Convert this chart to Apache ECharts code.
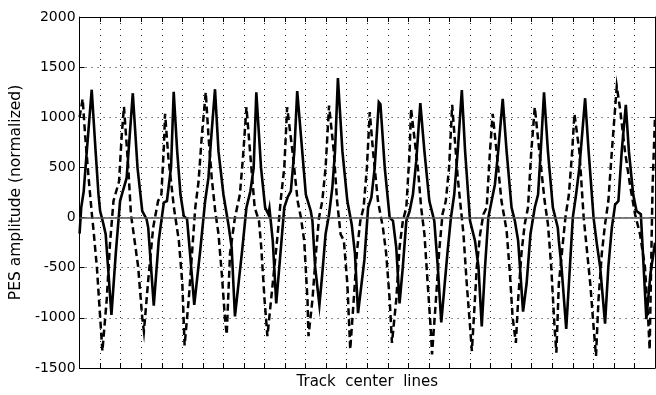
<!DOCTYPE html>
<html>
<head>
<meta charset="utf-8">
<script src="https://cdn.jsdelivr.net/npm/echarts@6/dist/echarts.min.js"></script>
<style>
  html, body { margin: 0; padding: 0; background: #fff; }
  #main { width: 656px; height: 395px; }
</style>
</head>
<body>
<div id="main"></div>
<script>
// track position (in track-center-line units) and PES amplitude
var yTicks = [-1500, -1000, -500, 0, 500, 1000, 1500, 2000];

var solidTrace = [
  [0, -160], [0.08, 100], [0.2, 260], [0.35, 660], [0.59, 1275], [0.78, 660], [0.92, 230], [1.0, 65], [1.16, -65], [1.27, -165], [1.55, -970],
  [1.76, -360], [1.97, 165], [2.1, 260], [2.29, 395], [2.59, 1240],
  [2.82, 495], [3.05, 65], [3.26, -15], [3.34, -100], [3.61, -878], [3.85, -230], [4.1, 150], [4.25, 165], [4.45, 500], [4.58, 1255],
  [4.75, 660], [4.91, 230], [5.07, 16], [5.23, -16], [5.39, -395], [5.58, -871], [5.87, -330], [6.11, 165], [6.27, 395], [6.39, 757], [6.59, 1280],
  [6.76, 660], [7.0, 230], [7.24, -66], [7.4, -296], [7.56, -986], [7.91, -330], [8.12, 100], [8.31, 263], [8.47, 493], [8.6, 1250],
  [8.83, 495], [9.03, 100], [9.19, 33], [9.24, 90], [9.4, -230], [9.57, -855], [9.72, -490], [9.96, 100], [10.12, 200], [10.28, 263], [10.45, 660], [10.59, 1262],
  [10.77, 820], [11.01, 230], [11.25, 65], [11.33, -33], [11.46, -490], [11.67, -871], [11.81, -560], [11.97, -165], [12.14, 33], [12.3, 300], [12.43, 660], [12.57, 1390],
  [12.79, 660], [13.03, 165], [13.24, -66], [13.4, -360], [13.55, -953], [13.86, -420], [14.04, 100], [14.2, 200], [14.36, 495], [14.56, 1150], [14.64, 1130],
  [14.85, 495], [15.09, 0], [15.25, -33], [15.41, -300], [15.57, -855], [15.73, -490], [15.9, -33], [16.06, 65], [16.22, 230], [16.38, 560], [16.58, 1141],
  [16.78, 660], [17.02, 165], [17.26, -33], [17.43, -490], [17.6, -1045], [17.91, -330], [18.07, 0], [18.23, 230], [18.4, 660], [18.6, 1272],
  [18.76, 660], [19.0, -33], [19.24, -230], [19.41, -490], [19.57, -1085], [19.73, -490], [19.89, 0], [20.05, 165], [20.21, 330], [20.37, 660], [20.59, 1183],
  [20.78, 660], [21.02, 100], [21.18, -33], [21.34, -230], [21.58, -937], [21.75, -660], [21.94, -165], [22.15, 100], [22.31, 230], [22.44, 660], [22.6, 1250],
  [22.79, 660], [23.03, 100], [23.27, -100], [23.32, -230], [23.45, -490], [23.68, -1111], [23.81, -660], [24.0, 0], [24.16, 230], [24.32, 495], [24.6, 1190],
  [24.77, 660], [25.01, 0], [25.17, -263], [25.33, -490], [25.57, -1058], [25.73, -490], [25.9, -100], [26.06, 130], [26.22, 165], [26.38, 660], [26.58, 1124],
  [26.73, 660], [26.94, 230], [27.1, 65], [27.31, 33], [27.38, -230], [27.58, -1013], [27.78, -560], [28, -250]
];

var dashedTrace = [
  [0, 1000], [0.15, 1183], [0.27, 820], [0.44, 395], [0.6, 30], [0.68, -130], [0.84, -490], [1.0, -990], [1.11, -1331],
  [1.32, -820], [1.48, -260], [1.65, 165], [1.76, 245], [1.92, 360], [2.05, 820], [2.16, 1105],
  [2.37, 495], [2.5, 30], [2.61, -130], [2.85, -490], [3.05, -1000], [3.13, -1134], [3.34, -625], [3.58, -100], [3.82, 165], [3.98, 230], [4.1, 700], [4.16, 1035],
  [4.32, 600], [4.59, 100], [4.83, -230], [5.0, -660], [5.11, -1275], [5.31, -820], [5.47, -360], [5.63, 100], [5.79, 360], [5.95, 820], [6.14, 1250],
  [6.27, 820], [6.43, 395], [6.6, 65], [6.76, -165], [6.92, -560], [7.08, -1020], [7.16, -1167], [7.32, -360], [7.56, 0], [7.8, 230], [7.96, 625], [8.12, 1101],
  [8.36, 495], [8.52, 100], [8.73, -33], [8.84, -296], [9.0, -820], [9.14, -1183], [9.48, -490], [9.64, -165], [9.8, 200], [9.96, 495], [10.1, 1100],
  [10.36, 660], [10.61, 165], [10.77, 0], [10.93, -230], [11.09, -820], [11.14, -1183], [11.33, -820], [11.5, -360], [11.65, 0], [11.81, 165], [11.97, 495], [12.14, 1117],
  [12.37, 660], [12.53, 165], [12.7, -165], [12.86, -230], [13.03, -660], [13.17, -1315], [13.34, -820], [13.5, -330], [13.66, -33], [13.82, 100], [13.98, 495], [14.12, 1052],
  [14.28, 660], [14.52, 165], [14.76, -100], [14.92, -360], [15.09, -820], [15.2, -1249], [15.41, -820], [15.57, -296], [15.73, -33], [15.9, 100], [16.06, 660], [16.13, 1085],
  [16.46, 495], [16.62, 100], [16.78, -165], [16.94, -660], [17.1, -1150], [17.15, -1364], [17.34, -820], [17.5, -330], [17.66, 33], [17.82, 165], [17.98, 495], [18.13, 1124],
  [18.4, 400], [18.68, -165], [18.84, -660], [19.0, -1085], [19.09, -1331], [19.33, -490], [19.49, -165], [19.65, 33], [19.81, 100], [19.97, 660], [20.1, 1035],
  [20.29, 660], [20.53, 165], [20.78, -130], [20.94, -560], [21.07, -990], [21.23, -1249], [21.34, -820], [21.5, -360], [21.66, -66], [21.82, 100], [21.98, 660], [22.15, 1101],
  [22.39, 625], [22.63, 165], [22.79, -66], [22.95, -490], [23.11, -1085], [23.2, -1347], [23.32, -660], [23.48, -330], [23.64, 0], [23.81, 230], [23.97, 660], [24.08, 1035],
  [24.32, 660], [24.53, 0], [24.69, -330], [24.85, -660], [25.01, -1085], [25.13, -1380], [25.25, -820], [25.41, -360], [25.57, -66], [25.73, 165], [25.9, 660], [26.14, 1308],
  [26.3, 1085], [26.54, 660], [26.78, 330], [27.03, 33], [27.27, -165], [27.51, -490], [27.67, -1020], [27.74, -1316], [27.88, 300], [28, 1000]
];

var chartDom = document.getElementById('main');
var myChart = echarts.init(chartDom, null, { renderer: 'canvas' });

var font = 'DejaVu Sans';
var dotted = { color: '#222', width: 1, type: [1, 5] };

var option = {
  animation: false,
  backgroundColor: '#fff',
  grid: { left: 77, right: 1, top: 17, bottom: 23 },
  xAxis: [
    {
      type: 'value',
      min: 0,
      max: 28,
      interval: 1,
      name: 'Track  center  lines',
      nameLocation: 'middle',
      nameGap: 7,
      nameTextStyle: { fontFamily: font, fontSize: 15, color: '#000', verticalAlign: 'top' },
      axisLine: { onZero: false, lineStyle: { color: '#000', width: 1 } },
      axisTick: { inside: true, length: 5, lineStyle: { color: '#000' } },
      axisLabel: { show: false },
      splitLine: { show: true, lineStyle: dotted }
    },
    {
      type: 'value',
      position: 'top',
      min: 0,
      max: 28,
      interval: 1,
      axisLine: { onZero: false, lineStyle: { color: '#000', width: 1 } },
      axisTick: { inside: true, length: 5, lineStyle: { color: '#000' } },
      axisLabel: { show: false },
      splitLine: { show: false }
    }
  ],
  yAxis: [
    {
      type: 'value',
      min: yTicks[0],
      max: yTicks[yTicks.length - 1],
      interval: 500,
      name: 'PES amplitude (normalized)',
      nameLocation: 'middle',
      nameGap: 45,
      nameTextStyle: { fontFamily: font, fontSize: 15.5, color: '#000' },
      axisLine: { show: true, onZero: false, lineStyle: { color: '#000', width: 1 } },
      axisTick: { show: true, inside: true, length: 5, lineStyle: { color: '#000' } },
      axisLabel: {
        fontFamily: font, fontSize: 14, color: '#000', margin: 4,
        formatter: function (v) { return String(v); }
      },
      splitLine: { show: true, lineStyle: dotted }
    },
    {
      type: 'value',
      position: 'right',
      min: yTicks[0],
      max: yTicks[yTicks.length - 1],
      interval: 500,
      axisLine: { show: true, onZero: false, lineStyle: { color: '#000', width: 1 } },
      axisTick: { show: true, inside: true, length: 5, lineStyle: { color: '#000' } },
      axisLabel: { show: false },
      splitLine: { show: false }
    }
  ],
  series: [
    {
      name: 'dashed',
      type: 'line',
      data: dashedTrace,
      showSymbol: false,
      symbol: 'none',
      lineStyle: { color: '#000', width: 2.5, type: [7, 4], join: 'miter' },
      z: 3
    },
    {
      name: 'solid',
      type: 'line',
      data: solidTrace,
      showSymbol: false,
      symbol: 'none',
      lineStyle: { color: '#000', width: 2.6, type: 'solid', join: 'miter' },
      markLine: {
        silent: true,
        symbol: 'none',
        label: { show: false },
        lineStyle: { color: '#555', width: 1.5, type: 'solid' },
        data: [{ yAxis: 0 }]
      },
      z: 4
    }
  ]
};

option && myChart.setOption(option);
</script>
</body>
</html>
